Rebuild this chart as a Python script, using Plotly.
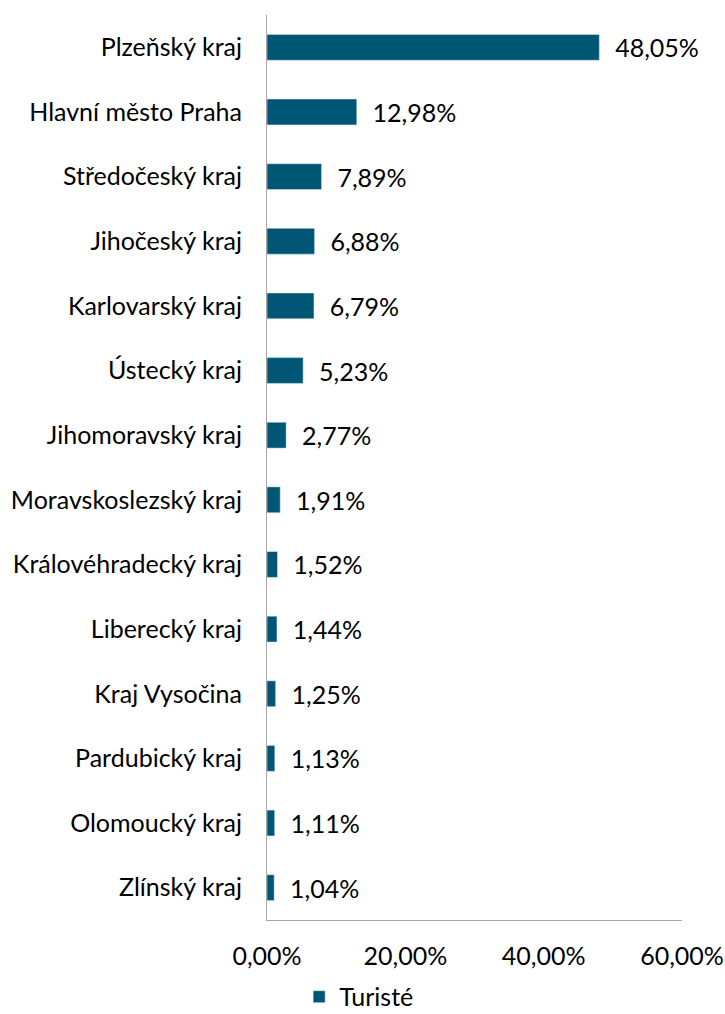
import plotly.graph_objects as go

# data (percent of tourists)
regions = [
    "Plzeňský kraj", "Hlavní město Praha", "Středočeský kraj", "Jihočeský kraj",
    "Karlovarský kraj", "Ústecký kraj", "Jihomoravský kraj", "Moravskoslezský kraj",
    "Královéhradecký kraj", "Liberecký kraj", "Kraj Vysočina", "Pardubický kraj",
    "Olomoucký kraj", "Zlínský kraj",
]
share = [48.05, 12.98, 7.89, 6.88, 6.79, 5.23, 2.77, 1.91, 1.52, 1.44, 1.25, 1.13, 1.11, 1.04]
series_name = "Turisté"

BAR = "#005674"
FONT = "Lato"
FS = 25

values = [v / 100 for v in share]
labels = ["\u00a0\u00a0" + f"{v:.2f}".replace(".", ",") + "%" for v in share]

fig = go.Figure()
fig.add_trace(go.Bar(
    x=values,
    y=regions,
    orientation="h",
    name=series_name,
    marker_color=BAR,
    text=labels,
    textposition="outside",
    constraintext="none",
    textfont=dict(size=FS, color="#000000", family=FONT),
    cliponaxis=False,
))

fig.update_layout(
    width=725, height=1014,
    margin=dict(l=267, r=43, t=15, b=94, autoexpand=False),
    plot_bgcolor="white",
    paper_bgcolor="white",
    separators=", ",
    font=dict(family=FONT, size=FS, color="#000000"),
    bargap=0.6,
    showlegend=True,
    legend=dict(
        orientation="h",
        x=0.222, xanchor="center",
        y=-0.085, yanchor="middle",
        font=dict(size=FS),
    ),
)

fig.update_xaxes(
    range=[0, 0.6],
    tickvals=[0, 0.2, 0.4, 0.6],
    tickformat=".2%",
    showgrid=False,
    zeroline=False,
    showline=True,
    linecolor="#a6a6a6",
    linewidth=1,
    ticks="",
    ticklabelstandoff=14,
    automargin=False,
)
fig.update_yaxes(
    autorange="reversed",
    showgrid=False,
    showline=True,
    linecolor="#a6a6a6",
    linewidth=1,
    ticks="",
    ticklabelstandoff=19,
    automargin=False,
)

# drop the default 8px page margin so the figure sits at the window's corner
fig.write_html("out.html", config={"displayModeBar": False},
               post_script="document.body.style.margin='0';")
